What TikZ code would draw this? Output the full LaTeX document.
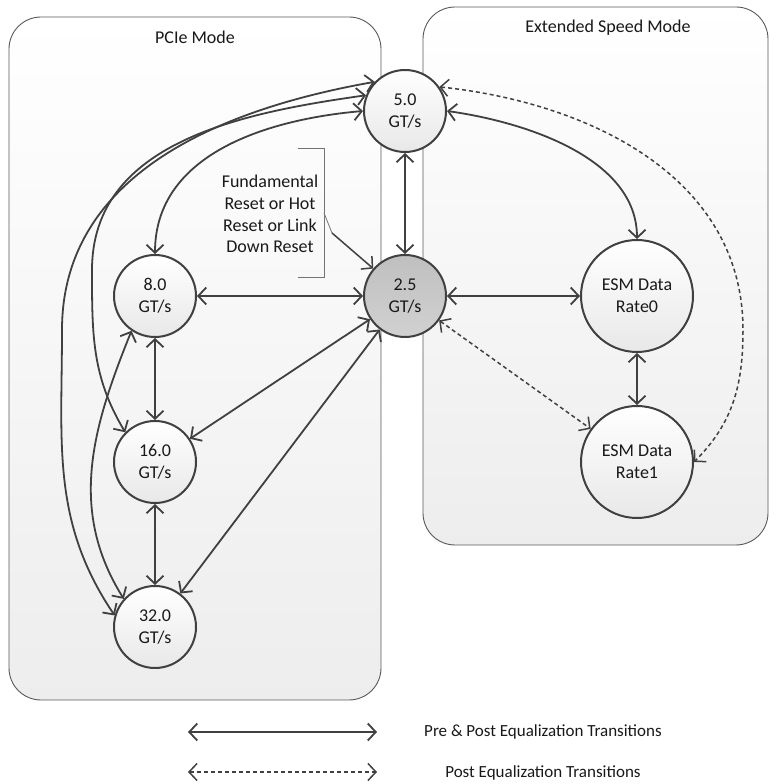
\documentclass[tikz,border=0pt]{standalone}
\usepackage{fontspec}
\setmainfont{Carlito}
\usetikzlibrary{arrows.meta, positioning, calc}

\begin{document}
\begin{tikzpicture}[
    x=1pt, y=1pt,
    every node/.style={font=\fontsize{18}{21.7}\selectfont, text=black!90},
    layer/.style={draw=black!65, line width=0.9pt, rounded corners=32pt, top color=white, bottom color=black!7},
    rate/.style={circle, draw=black!75, line width=2pt, minimum size=#1, inner sep=0pt, align=center, top color=white, bottom color=black!9},
    rate/.default=82pt,
    trans/.style={{Straight Barb[length=8pt,width=17pt]}-{Straight Barb[length=8pt,width=17pt]}, line width=1.8pt, draw=black!75},
    posteq/.style={trans, line width=1.5pt, dash pattern=on 4pt off 3pt},
    bracket/.style={draw=black!55, line width=0.8pt},
    resetarrow/.style={-{Straight Barb[length=8pt,width=17pt]}, line width=1.5pt, draw=black!75}
]
\useasboundingbox (0,0) rectangle (776,784);

% Modos
\node[layer, minimum width=372pt, minimum height=683pt] (pcie-layer) at (195,425.5) {};
\node (pcie-title) at (195,747) {PCIe Mode};
\node[layer, minimum width=345pt, minimum height=538pt] (esm-layer) at (595.5,508) {};
\node (esm-title) at (608,756) {Extended Speed Mode};

% Velocidades PCIe
\node[rate] (n50) at (405,673) {5.0\\GT/s};
\node[rate, top color=black!25, bottom color=black!18] (n25) at (405,488) {2.5\\GT/s};
\node[rate] (n80) at (155,488) {8.0\\GT/s};
\node[rate] (n160) at (155,322) {16.0\\GT/s};
\node[rate] (n320) at (155,157) {32.0\\GT/s};

% Velocidades ESM
\node[rate=112pt] (esm0) at (637,488) {ESM Data\\Rate0};
\node[rate=112pt] (esm1) at (637,322) {ESM Data\\Rate1};

% Reset
\node[align=center] (reset) at (270,570) {Fundamental\\Reset or Hot\\Reset or Link\\Down Reset};
\draw[bracket] (298,636) -- (324,636) -- (324,507) -- (298,507);
\coordinate (brmid) at (324,571);
\coordinate (resetbend) at (332,551);
\draw[bracket] (brmid) -- (resetbend);
\draw[resetarrow] (resetbend) -- (n25);

% Transicoes
\draw[trans] (n50) -- (n25);
\draw[trans] (n80) -- (n25);
\draw[trans] (n25) -- (esm0);
\draw[trans] (esm0) -- (esm1);
\draw[trans] (n80) -- (n160);
\draw[trans] (n160) -- (n320);
\draw[trans] (n160) -- (n25);
\draw[trans] (n320) -- (n25);
\draw[trans] (n50.east) to[out=-8, in=90, looseness=0.9] (esm0.north);
\draw[trans] (n50.west) to[out=185, in=90] (n80.north);
\draw[trans] (n50.158) to[out=188, in=90] (92,514) to[out=-90, in=121] (n160.135);
\draw[trans] (n50.136) to[out=190, in=90] (62,454) to[out=-90, in=124] (n320.164);
\draw[trans] (n80.236) to[out=248, in=122] (n320.138);

% Pos-equalizacao
\draw[posteq] (n25) -- (esm1);
\draw[posteq] (n50.35) to[out=-6, in=90] (743,454) to[out=-90, in=45] (esm1.east);

% Legenda
\coordinate (solid-l) at (188,52);
\coordinate (solid-r) at (377,52);
\draw[trans] (solid-l) -- (solid-r);
\node[font=\fontsize{17}{20}\selectfont] (solid-txt) at (543,52) {Pre \& Post Equalization Transitions};
\coordinate (dash-l) at (188,12);
\coordinate (dash-r) at (377,12);
\draw[posteq] (dash-l) -- (dash-r);
\node[font=\fontsize{17}{20}\selectfont] (dash-txt) at (543,11) {Post Equalization Transitions};

\end{tikzpicture}
\end{document}
